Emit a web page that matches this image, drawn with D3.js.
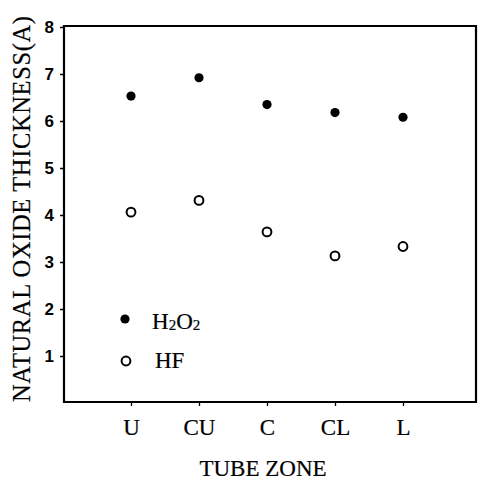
<!DOCTYPE html>
<html>
<head>
<meta charset="utf-8">
<script src="https://cdn.jsdelivr.net/npm/d3@7"></script>
<style>
  html, body { margin: 0; padding: 0; background: #fff; }
  svg { display: block; }
</style>
</head>
<body>
<svg id="chart" width="479" height="481"></svg>
<script>
// ---- data ----
const categories = ["U", "CU", "C", "CL", "L"];
const h2o2Values = [6.53, 6.92, 6.35, 6.18, 6.08];
const hfValues = [4.06, 4.31, 3.64, 3.13, 3.33];
const yTicks = [1, 2, 3, 4, 5, 6, 7, 8];
const seriesNames = ["H2O2", "HF"];

// ---- layout ----
const frame = { left: 64, right: 476, top: 26, bottom: 402 };
const svg = d3.select("#chart");

const x = d3.scalePoint().domain(categories).range([131, 403]);
const y = d3.scaleLinear().domain([0, 8]).range([403, 27]);

const serif = "'Liberation Serif', 'Times New Roman', serif";
const sans = "'Liberation Sans', Arial, sans-serif";

function serifText(sel, size) {
  return sel.attr("font-family", serif).attr("font-size", size).attr("fill", "#000")
    .attr("stroke", "#000").attr("stroke-width", 0.2);
}

// frame
svg.append("path")
  .attr("d", `M${frame.left},${y(8) - 1}H${frame.right}V${frame.bottom}H${frame.left}Z`)
  .attr("fill", "none").attr("stroke", "#000").attr("stroke-width", 2.2);

// y axis
const yAxis = d3.axisLeft(y).tickValues(yTicks).tickSize(4).tickPadding(6).tickFormat(d3.format("d"));
const gy = svg.append("g").attr("transform", `translate(${frame.left},0)`).call(yAxis);
gy.select(".domain").remove();
gy.selectAll(".tick line").attr("stroke", "#000").attr("stroke-width", 1.5);
gy.selectAll(".tick text")
  .attr("font-family", sans).attr("font-weight", "bold").attr("font-size", 17).attr("fill", "#000");

// x axis
const xAxis = d3.axisBottom(x).tickSize(4).tickPadding(14);
const gx = svg.append("g").attr("transform", `translate(0,${frame.bottom})`).call(xAxis);
gx.select(".domain").remove();
gx.selectAll(".tick line").attr("stroke", "#000").attr("stroke-width", 1.3);
serifText(gx.selectAll(".tick text"), 23)
  .attr("dy", null).attr("y", 33);

// axis titles
serifText(svg.append("text"), 23)
  .attr("x", 263).attr("y", 476)
  .attr("text-anchor", "middle")
  .text("TUBE ZONE");

serifText(svg.append("text"), 24.5)
  .attr("transform", `translate(30,209) rotate(-90)`)
  .attr("text-anchor", "middle")
  .attr("textLength", 386).attr("lengthAdjust", "spacing")
  .text("NATURAL OXIDE THICKNESS(A)");

// data points
svg.append("g").selectAll("circle")
  .data(h2o2Values)
  .join("circle")
  .attr("cx", (d, i) => x(categories[i]))
  .attr("cy", d => y(d))
  .attr("r", 4.6)
  .attr("fill", "#000");

svg.append("g").selectAll("circle")
  .data(hfValues)
  .join("circle")
  .attr("cx", (d, i) => x(categories[i]))
  .attr("cy", d => y(d))
  .attr("r", 4.4)
  .attr("fill", "#fff").attr("stroke", "#000").attr("stroke-width", 2);

// legend
const leg = svg.append("g");
leg.append("circle").attr("cx", 125).attr("cy", 319).attr("r", 4.6).attr("fill", "#000");
const t1 = serifText(leg.append("text"), 23).attr("x", 152).attr("y", 329);
t1.append("tspan").text("H");
t1.append("tspan").attr("font-size", 15).attr("dy", 1).text("2");
t1.append("tspan").attr("dy", -1).text("O");
t1.append("tspan").attr("font-size", 15).attr("dy", 1).text("2");

leg.append("circle").attr("cx", 126).attr("cy", 361).attr("r", 4.4)
  .attr("fill", "#fff").attr("stroke", "#000").attr("stroke-width", 2);
serifText(leg.append("text"), 23).attr("x", 155).attr("y", 368)
  .text(seriesNames[1]);
</script>
</body>
</html>
